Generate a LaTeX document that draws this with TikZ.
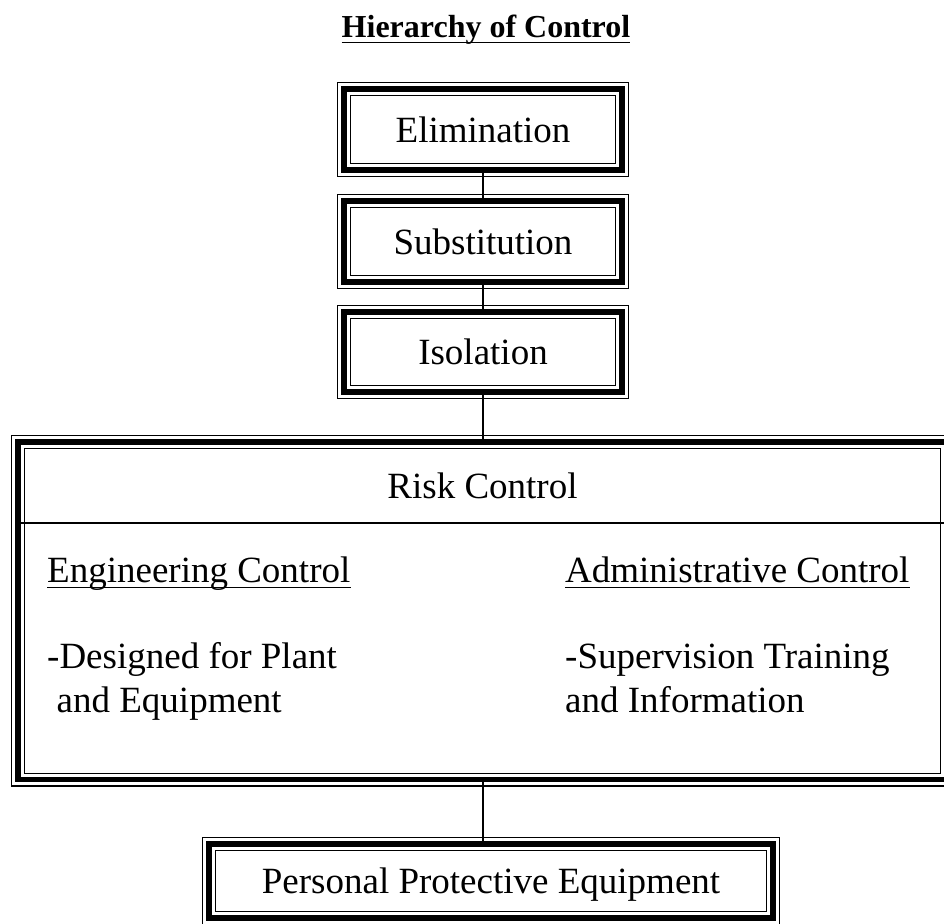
\documentclass[tikz,border=0pt]{standalone}
\usepackage{fontspec}
\setmainfont{Liberation Serif}
\tikzset{
  tribox/.style={draw, line width=1.3pt, rectangle, inner sep=0pt,
    font=\fontsize{37}{44}\selectfont, text height=25.5pt, text depth=0pt},
  conn/.style={line width=1.6pt},
  divl/.style={line width=1.6pt},
  uline/.style={line width=1.8pt},
  body/.style={anchor=base west, inner sep=0pt, font=\fontsize{37}{44}\selectfont},
  headtext/.style={anchor=base, inner sep=0pt, font=\fontsize{37}{44}\selectfont},
  titletext/.style={anchor=base, inner sep=0pt, font=\fontsize{32}{38}\selectfont\bfseries},
}
\newcommand\triborder[1]{%
  \draw[line width=5.6pt] ([shift={(6.85pt,6.85pt)}]#1.south west) rectangle ([shift={(-6.85pt,-6.85pt)}]#1.north east);
  \draw[line width=1.3pt] ([shift={(13.35pt,13.35pt)}]#1.south west) rectangle ([shift={(-13.35pt,-13.35pt)}]#1.north east);
}
\begin{document}
\begin{tikzpicture}[x=1pt,y=-1pt]
\useasboundingbox (0,0) rectangle (944,923);
\clip (0,0) rectangle (944,923);
\fill[white] (0,0) rectangle (944,923);

% title
\node[titletext] (title) at (486,38) {Hierarchy of Control};
\draw[uline] ([yshift=-4.5pt]title.base west) -- ([yshift=-4.5pt]title.base east);

% boxes
\node[tribox, minimum width=290.7pt, minimum height=93.7pt] (elim) at (483,129.5) {Elimination};
\node[tribox, minimum width=290.7pt, minimum height=93.7pt] (subs) at (483,241.5) {Substitution};
\node[tribox, minimum width=290.7pt, minimum height=92.5pt] (iso) at (483,352) {Isolation};
\node[tribox, minimum width=941.7pt, minimum height=350.2pt] (risk) at (482.5,610.75) {};
\node[tribox, minimum width=576.7pt, minimum height=86.7pt] (ppe) at (491,881) {Personal Protective Equipment};

\triborder{elim}
\triborder{subs}
\triborder{iso}
\triborder{risk}
\triborder{ppe}

% connectors (they run from thick band to thick band)
\draw[conn] ([yshift=5pt]elim.south) -- ([yshift=-5pt]subs.north);
\draw[conn] ([yshift=5pt]subs.south) -- ([yshift=-5pt]iso.north);
\draw[conn] ([yshift=5pt]iso.south) -- ([yshift=-5pt]iso.south |- risk.north);
\draw[conn] ([yshift=5pt]risk.south -| iso.south) -- ([yshift=-5pt]ppe.north -| iso.south);

% risk control content
\coordinate (divL) at (21.3,523);
\coordinate (divR) at (943.7,523);
\draw[divl] (divL) -- (divR);
\node[headtext] (rc) at (482.5,498) {Risk Control};

\node[body] (eng) at (47,582) {Engineering Control};
\draw[uline] ([yshift=-5.5pt]eng.base west) -- ([yshift=-5.5pt]eng.base east);
\node[body] (eng1) at (47,668) {-Designed for Plant};
\node[body] (eng2) at (56.5,712) {and Equipment};

\node[body] (adm) at (565,582) {Administrative Control};
\draw[uline] ([yshift=-5.5pt]adm.base west) -- ([yshift=-5.5pt]adm.base east);
\node[body] (adm1) at (565,668) {-Supervision Training};
\node[body] (adm2) at (565,712) {and Information};
\end{tikzpicture}
\end{document}
